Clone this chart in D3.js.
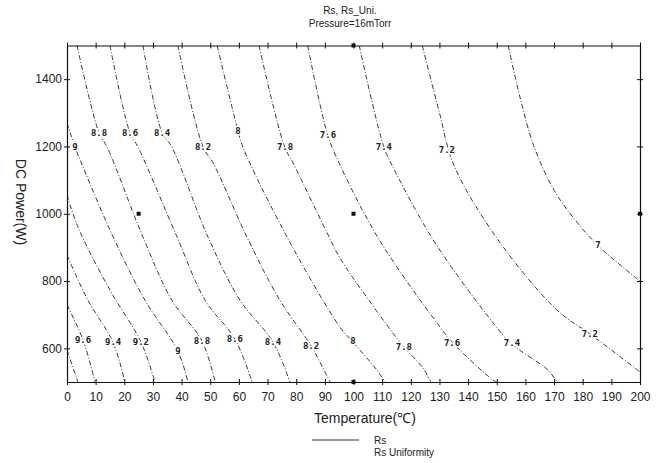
<!DOCTYPE html>
<html>
<head>
<meta charset="utf-8">
<script src="https://cdn.jsdelivr.net/npm/d3@7"></script>
<style>
  body { margin: 0; background: #fff; }
  text { font-family: "Liberation Sans", Arial, sans-serif; }
</style>
</head>
<body>
<script>
var width = 669;
var height = 463;

// tick values
var xTicks = d3.range(0, 201, 10);
var yTicks = [600, 800, 1000, 1200, 1400];

// Rs contour levels and their points [temperature, power]
var levels = [7.0, 7.2, 7.4, 7.6, 7.8, 8.0, 8.2, 8.4, 8.6, 8.8, 9.0, 9.2, 9.4, 9.6, 9.8];
var contourPts = [
  [[154, 1500], [158, 1350], [163, 1200], [170, 1070], [178, 975], [186, 900], [200, 800]],
  [[124, 1500], [130, 1300], [135, 1145], [150, 928], [171, 714], [183, 640], [200, 530]],
  [[102, 1500], [110.6, 1198], [113.4, 1145], [127.4, 928], [146.6, 699], [155, 615], [167.9, 535], [171, 500]],
  [[84, 1500], [91, 1234], [95.3, 1145], [108.6, 928], [128.4, 684], [134.7, 616], [148.7, 506], [150, 500]],
  [[67, 1500], [76, 1198], [78.9, 1151], [90.8, 943], [95.3, 868], [113.8, 645], [117.6, 604], [124.3, 541], [127, 500]],
  [[52.4, 1500], [59.7, 1246], [61.4, 1198], [76.8, 931], [95.3, 663], [99.8, 619], [108.2, 535], [111, 500]],
  [[38.7, 1500], [47.5, 1198], [51, 1151], [62.8, 931], [74.3, 743], [85.2, 607], [91.8, 500]],
  [[26.5, 1500], [33.2, 1240], [36.6, 1198], [49.2, 931], [60.4, 743], [71.9, 619], [77.8, 500]],
  [[15, 1500], [22, 1240], [24.8, 1198], [38.4, 931], [48.2, 743], [58.6, 628], [64.6, 500]],
  [[3.5, 1500], [11.2, 1240], [14, 1198], [26.5, 931], [36.6, 743], [47.1, 622], [51.7, 500]],
  [[0, 1270], [2.8, 1198], [5.6, 1139], [16.1, 931], [27.2, 743], [38.7, 592], [42.2, 500]],
  [[0, 1056], [3.8, 961], [15, 773], [25.8, 619], [30.7, 500]],
  [[0, 877], [7.3, 743], [16, 619], [20.2, 500]],
  [[0, 729], [5.6, 625], [9.8, 500]],
  [[0, 595], [3.8, 500]]
];

// contour labels: temperature, power, text
var labelT = [2.8, 11.2, 22, 33.2, 47.5, 59.7, 76.1, 91.1, 110.6, 132.6, 185.3,
              5.6, 16.1, 25.8, 38.7, 47.1, 58.6, 71.9, 85.2, 99.8, 117.6, 134.4, 155.3, 182.5];
var labelP = [1198, 1240, 1240, 1240, 1198, 1246, 1198, 1234, 1198, 1189, 907,
              625, 619, 619, 592, 622, 628, 619, 607, 622, 604, 616, 616, 643];
var labelText = ["9", "8.8", "8.6", "8.4", "8.2", "8", "7.8", "7.6", "7.4", "7.2", "7",
                 "9.6", "9.4", "9.2", "9", "8.8", "8.6", "8.4", "8.2", "8", "7.8", "7.6", "7.4", "7.2"];

// design points
var runT = [25, 100, 200, 100, 100];
var runP = [1000, 1000, 1000, 1500, 500];

var svg = d3.select("body").append("svg")
    .attr("width", width)
    .attr("height", height);

var x = d3.scaleLinear().domain([0, 200]).range([67, 640]);
var y = d3.scaleLinear().domain([500, 1500]).range([382, 45.5]);

var line = d3.line()
    .x(function(d) { return x(d[0]); })
    .y(function(d) { return y(d[1]); })
    .curve(d3.curveCatmullRom.alpha(0.5));

svg.append("clipPath").attr("id", "plot")
  .append("rect")
    .attr("x", 67).attr("y", 45.5)
    .attr("width", 573).attr("height", 336.5);

svg.append("g")
    .attr("clip-path", "url(#plot)")
  .selectAll("path")
  .data(contourPts)
  .enter().append("path")
    .attr("d", line)
    .attr("fill", "none")
    .attr("stroke", "#3a3a3a")
    .attr("stroke-width", 1)
    .attr("stroke-dasharray", "5,2,1,2");

svg.append("g").selectAll("text")
  .data(labelText)
  .enter().append("text")
    .attr("x", function(d, i) { return x(labelT[i]); })
    .attr("y", function(d, i) { return y(labelP[i]); })
    .attr("dy", "0.35em")
    .attr("text-anchor", "middle")
    .attr("font-size", 9)
    .attr("font-weight", "bold")
    .style("font-family", "DejaVu Sans Mono, monospace")
    .attr("fill", "#222")
    .attr("stroke", "#fff")
    .attr("stroke-width", 3)
    .attr("paint-order", "stroke")
    .text(function(d) { return d; });

svg.append("g").selectAll("rect")
  .data(runT)
  .enter().append("rect")
    .attr("x", function(d) { return x(d) - 2; })
    .attr("y", function(d, i) { return y(runP[i]) - 2; })
    .attr("width", 4)
    .attr("height", 4)
    .attr("fill", "#111");

// axes with ticks crossing the frame
function crossTicks(g, horizontal) {
  g.select(".domain").attr("stroke", "#111").attr("stroke-width", 1.2);
  g.selectAll(".tick line")
    .attr("stroke", "#111")
    .attr(horizontal ? "y1" : "x1", -3)
    .attr(horizontal ? "y2" : "x2", 3);
}

var xAxis = svg.append("g")
    .attr("transform", "translate(0,382)")
    .call(d3.axisBottom(x).tickValues(xTicks).tickSize(3).tickSizeOuter(0).tickPadding(7));
crossTicks(xAxis, true);
xAxis.selectAll("text").attr("font-size", 12).attr("fill", "#222")
    .style("font-family", "Liberation Sans, Arial, sans-serif");

var xTop = svg.append("g")
    .attr("transform", "translate(0,45.5)")
    .call(d3.axisTop(x).tickValues(xTicks).tickSize(3).tickSizeOuter(0).tickFormat(""));
crossTicks(xTop, true);

var yAxis = svg.append("g")
    .attr("transform", "translate(67,0)")
    .call(d3.axisLeft(y).tickValues(yTicks).tickFormat(d3.format("d"))
      .tickSize(3).tickSizeOuter(0).tickPadding(2));
crossTicks(yAxis, false);
yAxis.selectAll("text").attr("font-size", 12).attr("fill", "#222")
    .style("font-family", "Liberation Sans, Arial, sans-serif");

var yRight = svg.append("g")
    .attr("transform", "translate(640,0)")
    .call(d3.axisRight(y).tickValues(yTicks).tickSize(3).tickSizeOuter(0).tickFormat(""));
crossTicks(yRight, false);

// titles
svg.append("text")
    .attr("x", 350).attr("y", 14)
    .attr("text-anchor", "middle")
    .attr("font-size", 10).attr("fill", "#222")
    .text("Rs, Rs_Uni.");
svg.append("text")
    .attr("x", 350).attr("y", 27)
    .attr("text-anchor", "middle")
    .attr("font-size", 10).attr("fill", "#222")
    .text("Pressure=16mTorr");

svg.append("text")
    .attr("x", 365).attr("y", 423)
    .attr("text-anchor", "middle")
    .attr("font-size", 14).attr("fill", "#222")
    .text("Temperature(℃)");

svg.append("text")
    .attr("transform", "translate(16,202) rotate(90)")
    .attr("text-anchor", "middle")
    .attr("font-size", 14).attr("fill", "#222")
    .text("DC Power(W)");

// legend
svg.append("line")
    .attr("x1", 312).attr("x2", 359)
    .attr("y1", 440).attr("y2", 440)
    .attr("stroke", "#333").attr("stroke-width", 1);
svg.append("text")
    .attr("x", 374).attr("y", 444)
    .attr("font-size", 10).attr("fill", "#222")
    .text("Rs");
svg.append("text")
    .attr("x", 374).attr("y", 456)
    .attr("font-size", 10).attr("fill", "#222")
    .text("Rs Uniformity");
</script>
</body>
</html>
